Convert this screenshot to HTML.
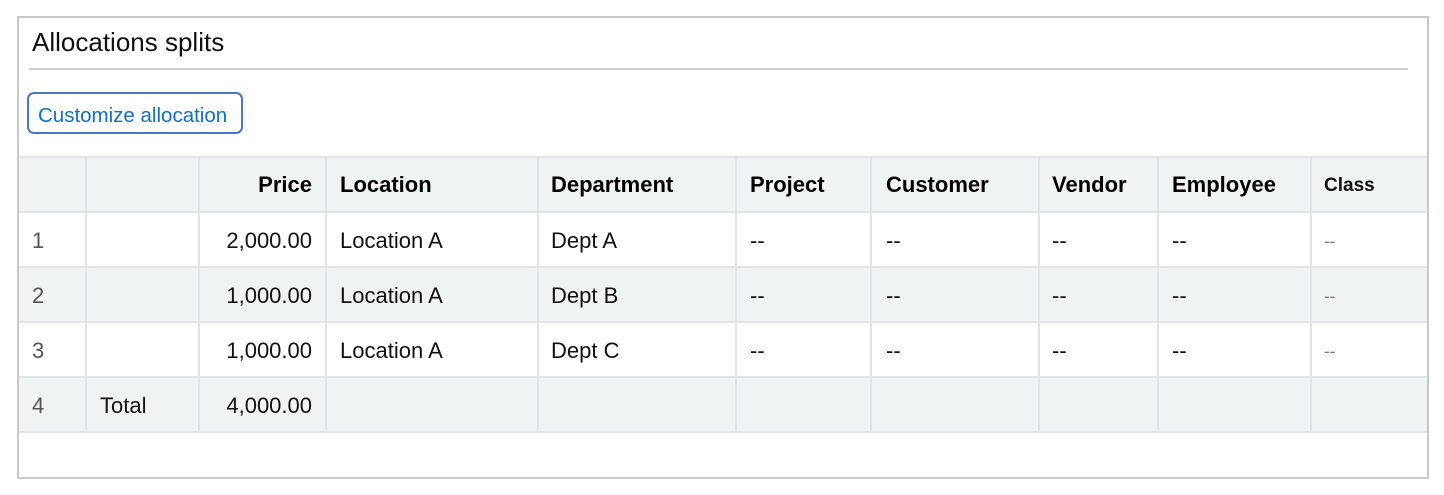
<!DOCTYPE html>
<html>
<head>
<meta charset="utf-8">
<style>
  html,body{margin:0;padding:0;background:#fff;}
  body{width:1444px;height:495px;position:relative;overflow:hidden;font-family:"Liberation Sans",Arial,sans-serif;color:#111;}
  .box{position:absolute;left:17px;top:16px;width:1408px;height:459px;border:2px solid #c9c9c9;background:#fff;}
  .abs{position:absolute;}
  .title{left:32px;top:27px;font-size:26px;line-height:30px;color:#111;white-space:nowrap;}
  .divider{left:29px;top:68px;width:1379px;height:2px;background:#cfcfcf;}
  .btn{left:27px;top:92px;width:216px;height:42px;box-sizing:border-box;border:2px solid #4a76c6;border-radius:7px;}
  .btntxt{left:38px;top:101px;font-size:20.5px;line-height:30px;color:#1170c4;white-space:nowrap;}
  .rowbg{left:19px;width:1408px;height:55px;}
  .gray{background:#f0f3f4;}
  .hl{left:19px;width:1408px;height:2px;background:#e1e5e7;}
  .vl{top:156px;width:2px;height:277px;background:#e1e5e7;}
  .c{font-size:22px;line-height:55px;height:55px;white-space:nowrap;}
  .h{font-weight:bold;color:#000;}
  .num{color:#555;}
  .r{text-align:right;}
  .cls{font-size:19px;font-weight:bold;color:#111;}
  .dash2{font-size:17px;color:#777;}
</style>
</head>
<body>
<div class="box"></div>
<div class="abs title">Allocations splits</div>
<div class="abs divider"></div>
<div class="abs btn"></div>
<div class="abs btntxt">Customize allocation</div>

<!-- row backgrounds -->
<div class="abs rowbg gray" style="top:157px;"></div>
<div class="abs rowbg gray" style="top:267px;"></div>
<div class="abs rowbg gray" style="top:377px;"></div>

<!-- horizontal lines -->
<div class="abs hl" style="top:156px;"></div>
<div class="abs hl" style="top:211px;"></div>
<div class="abs hl" style="top:266px;"></div>
<div class="abs hl" style="top:321px;"></div>
<div class="abs hl" style="top:376px;"></div>
<div class="abs hl" style="top:431px;"></div>

<!-- vertical lines -->
<div class="abs vl" style="left:85px;"></div>
<div class="abs vl" style="left:198px;"></div>
<div class="abs vl" style="left:325px;"></div>
<div class="abs vl" style="left:537px;"></div>
<div class="abs vl" style="left:735px;"></div>
<div class="abs vl" style="left:870px;"></div>
<div class="abs vl" style="left:1038px;"></div>
<div class="abs vl" style="left:1157px;"></div>
<div class="abs vl" style="left:1310px;"></div>

<!-- header -->
<div class="abs c h r" style="top:157px;left:200px;width:112px;">Price</div>
<div class="abs c h" style="top:157px;left:340px;">Location</div>
<div class="abs c h" style="top:157px;left:551px;">Department</div>
<div class="abs c h" style="top:157px;left:750px;">Project</div>
<div class="abs c h" style="top:157px;left:886px;">Customer</div>
<div class="abs c h" style="top:157px;left:1052px;">Vendor</div>
<div class="abs c h" style="top:157px;left:1172px;">Employee</div>
<div class="abs c cls" style="top:158px;left:1324px;">Class</div>

<!-- row 1 -->
<div class="abs c num" style="top:213px;left:32px;">1</div>
<div class="abs c r" style="top:213px;left:200px;width:112px;">2,000.00</div>
<div class="abs c" style="top:213px;left:340px;">Location A</div>
<div class="abs c" style="top:213px;left:551px;">Dept A</div>
<div class="abs c" style="top:213px;left:750px;">--</div>
<div class="abs c" style="top:213px;left:886px;">--</div>
<div class="abs c" style="top:213px;left:1052px;">--</div>
<div class="abs c" style="top:213px;left:1172px;">--</div>
<div class="abs c dash2" style="top:214px;left:1324px;">--</div>

<!-- row 2 -->
<div class="abs c num" style="top:268px;left:32px;">2</div>
<div class="abs c r" style="top:268px;left:200px;width:112px;">1,000.00</div>
<div class="abs c" style="top:268px;left:340px;">Location A</div>
<div class="abs c" style="top:268px;left:551px;">Dept B</div>
<div class="abs c" style="top:268px;left:750px;">--</div>
<div class="abs c" style="top:268px;left:886px;">--</div>
<div class="abs c" style="top:268px;left:1052px;">--</div>
<div class="abs c" style="top:268px;left:1172px;">--</div>
<div class="abs c dash2" style="top:269px;left:1324px;">--</div>

<!-- row 3 -->
<div class="abs c num" style="top:323px;left:32px;">3</div>
<div class="abs c r" style="top:323px;left:200px;width:112px;">1,000.00</div>
<div class="abs c" style="top:323px;left:340px;">Location A</div>
<div class="abs c" style="top:323px;left:551px;">Dept C</div>
<div class="abs c" style="top:323px;left:750px;">--</div>
<div class="abs c" style="top:323px;left:886px;">--</div>
<div class="abs c" style="top:323px;left:1052px;">--</div>
<div class="abs c" style="top:323px;left:1172px;">--</div>
<div class="abs c dash2" style="top:324px;left:1324px;">--</div>

<!-- row 4 -->
<div class="abs c num" style="top:378px;left:32px;">4</div>
<div class="abs c" style="top:378px;left:100px;">Total</div>
<div class="abs c r" style="top:378px;left:200px;width:112px;">4,000.00</div>
</body>
</html>
